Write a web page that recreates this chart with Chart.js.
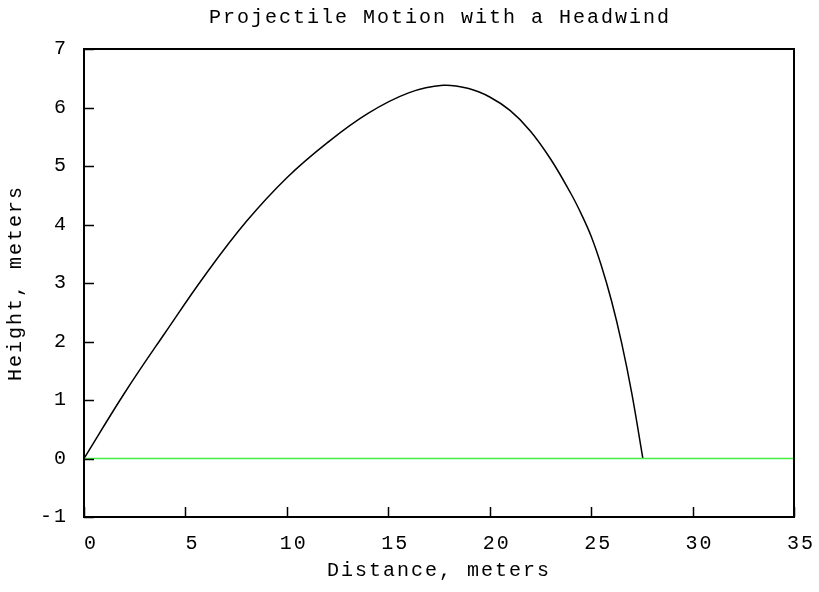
<!DOCTYPE html>
<html>
<head>
<meta charset="utf-8">
<script src="https://cdn.jsdelivr.net/npm/chart.js@4/dist/chart.umd.min.js"></script>
<style>
  html, body { margin: 0; padding: 0; background: #fff; }
  #wrap { width: 819px; height: 592px; }
</style>
</head>
<body>
<div id="wrap"><canvas id="chart"></canvas></div>
<script>
// trajectory
const distance = [0, 2, 4, 6, 8, 10, 12, 14, 16, 17.7, 19, 20, 21, 22, 23, 24, 24.5, 25, 25.5, 26, 26.5, 27, 27.55];
const height = [0, 1.12, 2.15, 3.15, 4.05, 4.8, 5.4, 5.9, 6.25, 6.38, 6.32, 6.18, 5.95, 5.6, 5.12, 4.53, 4.19, 3.8, 3.3, 2.7, 1.98, 1.12, 0];
const groundX = [0, 35];
const groundY = [0, 0];
const xTicks = [0, 5, 10, 15, 20, 25, 30, 35];
const yTicks = [-1, 0, 1, 2, 3, 4, 5, 6, 7];
const titleText = "Projectile Motion with a Headwind";

const MONO = "'Liberation Mono', 'Courier New', monospace";
const FONT_SIZE = 20;
const SPACING = "2px";

// wide letter spacing like the original, and gnuplot-like frame with inward ticks
const framePlugin = {
  id: "frame",
  beforeLayout(chart) { chart.ctx.letterSpacing = SPACING; },
  beforeDraw(chart) { chart.ctx.letterSpacing = SPACING; },
  afterDatasetsDraw(chart) {
    const { ctx, chartArea: a, scales } = chart;
    ctx.save();
    ctx.strokeStyle = "#000";
    ctx.lineWidth = 1.5;
    ctx.beginPath();
    xTicks.forEach(v => {
      const px = Math.round(scales.x.getPixelForValue(v)) + 0.5;
      ctx.moveTo(px, a.bottom);
      ctx.lineTo(px, a.bottom - 10);
    });
    yTicks.forEach(v => {
      const py = Math.round(scales.y.getPixelForValue(v)) + 0.5;
      ctx.moveTo(a.left, py);
      ctx.lineTo(a.left + 10, py);
    });
    ctx.stroke();
    ctx.lineWidth = 2;
    ctx.strokeRect(a.left, a.top, a.right - a.left, a.bottom - a.top);

    // title centred over the plot area
    ctx.fillStyle = "#000";
    ctx.font = FONT_SIZE + "px " + MONO;
    ctx.textAlign = "center";
    ctx.textBaseline = "alphabetic";
    ctx.fillText(titleText, (a.left + a.right) / 2 + 1, 23);
    ctx.restore();
  }
};

new Chart(document.getElementById("chart"), {
  type: "scatter",
  data: {
    datasets: [
      {
        label: "ground",
        data: groundX.map((x, i) => ({ x: x, y: groundY[i] })),
        showLine: true,
        borderColor: "#44ee44",
        borderWidth: 1.5,
        pointRadius: 0
      },
      {
        label: "trajectory",
        data: distance.map((x, i) => ({ x: x, y: height[i] })),
        showLine: true,
        borderColor: "#000",
        borderWidth: 1.5,
        pointRadius: 0,
        tension: 0.4
      }
    ]
  },
  options: {
    responsive: true,
    maintainAspectRatio: false,
    animation: false,
    layout: { padding: { left: 0, right: 25, top: 49, bottom: 0 } },
    plugins: {
      legend: { display: false },
      tooltip: { enabled: false },
      title: { display: false }
    },
    scales: {
      x: {
        type: "linear",
        min: 0,
        max: 35,
        afterBuildTicks: s => { s.ticks = xTicks.map(v => ({ value: v })); },
        afterFit: s => { s.height = 75; s.paddingLeft = 0; s.paddingRight = 0; },
        grid: { display: false },
        border: { display: false },
        ticks: {
          color: "#000", padding: 7, maxRotation: 0,
          font: { family: MONO, size: FONT_SIZE },
          callback: v => " " + v
        },
        title: {
          display: true,
          text: "Distance, meters",
          color: "#000",
          font: { family: MONO, size: FONT_SIZE },
          padding: { top: 0, bottom: 9 }
        }
      },
      y: {
        type: "linear",
        min: -1,
        max: 7,
        afterBuildTicks: s => { s.ticks = yTicks.map(v => ({ value: v })); },
        afterFit: s => { s.width = 84; s.paddingTop = 0; s.paddingBottom = 0; },
        grid: { display: false },
        border: { display: false },
        ticks: { color: "#000", padding: 8, font: { family: MONO, size: FONT_SIZE } },
        title: {
          display: true,
          text: "Height, meters",
          color: "#000",
          font: { family: MONO, size: FONT_SIZE },
          padding: { top: 4, bottom: 0 }
        }
      }
    }
  },
  plugins: [framePlugin]
});
</script>
</body>
</html>
